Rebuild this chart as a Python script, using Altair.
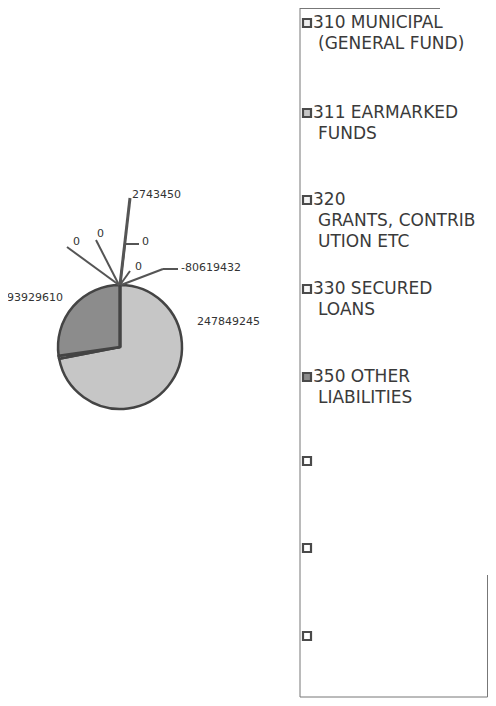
import altair as alt
import pandas as pd

# ---- data ----
categories = ["310", "311", "320", "330", "350", "b1", "b2", "b3"]
legend_head = ["310 MUNICIPAL", "311 EARMARKED", "320", "330 SECURED", "350 OTHER", "", "", ""]
legend_tail = ["(GENERAL FUND)", "FUNDS", "GRANTS, CONTRIB|UTION ETC", "LOANS", "LIABILITIES", "", "", ""]
values = [0, 247849245, 2743450, -80619432, 93929610, 0, 0, 0]

# ---- styles / layout (page pixel coordinates) ----
fills = ["#eeeeee", "#c6c6c6", "#f4f4f4", "#f8f8f8", "#8c8c8c", "#ffffff", "#ffffff", "#ffffff"]
pie_cx, pie_cy, pie_r = 120, 347, 62
label_x = [142, 197, 132, 181, 7, 135, 97, 73]
label_y = [242, 322, 195, 268, 298, 267, 234, 242]
leaders = {
    "310": [(120, 285), (125, 244), (139, 244)],
    "320": [(120, 285), (130, 198)],
    "330": [(121, 285), (163, 269), (178, 269)],
    "b1": [(120, 285), (130, 271)],
    "b2": [(119, 285), (96, 240)],
    "b3": [(119, 285), (67, 247)],
}
leader_width = {"320": 3.0}
legend_y = [23, 113, 200, 289, 377, 461, 548, 636]
W, H = 480, 690
X0, Y0 = 8, 8

df = pd.DataFrame({
    "cat": categories,
    "value": values,
    "order": list(range(len(categories))),
    "label": [str(v) for v in values],
    "lx": label_x,
    "ly": label_y,
    "head": legend_head,
    "tail": legend_tail,
    "legy": legend_y,
})

seg_rows = []
for cat, pts in leaders.items():
    for (a, b) in zip(pts[:-1], pts[1:]):
        seg_rows.append({"cat": cat, "x": a[0], "y": a[1], "x2": b[0], "y2": b[1],
                         "w": leader_width.get(cat, 2.0)})
segs = pd.DataFrame(seg_rows)

xs = alt.Scale(domain=[X0, X0 + W], range=[0, W])
ys = alt.Scale(domain=[Y0, Y0 + H], range=[0, H])
color = alt.Color("cat:N", scale=alt.Scale(domain=categories, range=fills), legend=None)

base = alt.Chart(df)

pie = base.transform_calculate(
    pos="max(datum.value, 0)"
).mark_arc(outerRadius=pie_r, stroke="#444444", strokeWidth=2.5).encode(
    theta=alt.Theta("pos:Q", stack=True),
    order=alt.Order("order:Q"),
    color=color,
    x=alt.value(pie_cx - X0),
    y=alt.value(pie_cy - Y0),
)

lead = alt.Chart(segs).mark_rule(color="#555555").encode(
    x=alt.X("x:Q", scale=xs, axis=None),
    y=alt.Y("y:Q", scale=ys, axis=None),
    x2="x2:Q",
    y2="y2:Q",
    strokeWidth=alt.StrokeWidth("w:Q", scale=None, legend=None),
)

labels = base.mark_text(
    font="DejaVu Sans", fontSize=11, color="#333333", align="left", baseline="middle"
).encode(
    x=alt.X("lx:Q", scale=xs, axis=None),
    y=alt.Y("ly:Q", scale=ys, axis=None),
    text="label:N",
)

# legend frame
frame_df = pd.DataFrame({
    "x": [300, 300, 300, 487.5],
    "y": [8.5, 8, 697, 575],
    "x2": [440, 300, 487.5, 487.5],
    "y2": [8.5, 697, 697, 697],
})
frame = alt.Chart(frame_df).mark_rule(color="#777777", strokeWidth=1).encode(
    x=alt.X("x:Q", scale=xs, axis=None),
    y=alt.Y("y:Q", scale=ys, axis=None),
    x2="x2:Q",
    y2="y2:Q",
)

sym = base.mark_square(size=64, stroke="#4a4a4a", strokeWidth=2.2, opacity=1).encode(
    x=alt.X("sx:Q", scale=xs, axis=None),
    y=alt.Y("legy:Q", scale=ys, axis=None),
    color=color,
).transform_calculate(sx="307")

head = base.mark_text(
    font="DejaVu Sans", fontSize=17, color="#3a3a3a", align="left", baseline="middle"
).encode(
    x=alt.X("hx:Q", scale=xs, axis=None),
    y=alt.Y("legy:Q", scale=ys, axis=None),
    text="head:N",
).transform_calculate(hx="313")

tail = base.mark_text(
    font="DejaVu Sans", fontSize=17, color="#3a3a3a", align="left", baseline="middle",
    lineBreak="|", lineHeight=21,
).encode(
    x=alt.X("tx:Q", scale=xs, axis=None),
    y=alt.Y("ty:Q", scale=ys, axis=None),
    text="tail:N",
).transform_calculate(tx="318", ty="datum.legy + 20.5")

chart = alt.layer(frame, pie, lead, labels, sym, head, tail).properties(
    width=W, height=H, padding=0, autosize=alt.AutoSizeParams(type="none")
).configure(background="white", view=alt.ViewConfig(stroke=None))

chart.save("out.html", embed_options={"renderer": "svg", "actions": False})
